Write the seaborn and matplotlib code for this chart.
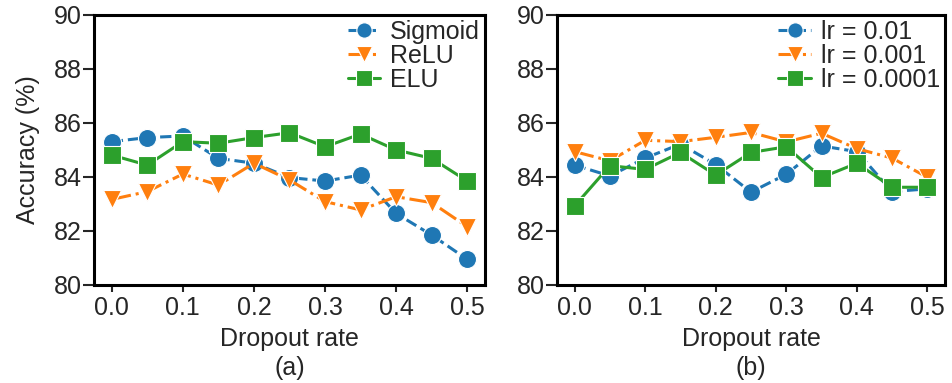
import matplotlib
matplotlib.use("Agg")
import matplotlib.pyplot as plt
import seaborn as sns
import numpy as np

dropout = [0.0, 0.05, 0.1, 0.15, 0.2, 0.25, 0.3, 0.35, 0.4, 0.45, 0.5]

# Panel (a): activation functions
sigmoid = [85.31, 85.46, 85.52, 84.69, 84.51, 83.98, 83.85, 84.07, 82.65, 81.85, 80.95]
relu    = [83.17, 83.46, 84.11, 83.70, 84.51, 83.89, 83.09, 82.78, 83.27, 83.05, 82.16]
elu     = [84.81, 84.44, 85.31, 85.25, 85.46, 85.64, 85.12, 85.59, 85.00, 84.69, 83.85]

# Panel (b): learning rates
lr_001   = [84.44, 84.04, 84.70, 85.22, 84.46, 83.44, 84.10, 85.15, 84.94, 83.46, 83.56]
lr_0001  = [84.94, 84.60, 85.36, 85.31, 85.47, 85.65, 85.30, 85.62, 85.05, 84.70, 83.99]
lr_00001 = [82.93, 84.42, 84.28, 84.91, 84.07, 84.91, 85.12, 83.98, 84.51, 83.62, 83.62]

labels_a = ["Sigmoid", "ReLU", "ELU"]
labels_b = ["lr = 0.01", "lr = 0.001", "lr = 0.0001"]
yticks = [80, 82, 84, 86, 88, 90]
xticks = [0.0, 0.1, 0.2, 0.3, 0.4, 0.5]

sns.set_theme(style="white")
plt.rcParams['font.family'] = ['Liberation Sans', 'DejaVu Sans']

colors = ["#1f77b4", "#ff7f0e", "#2ca02c"]
markers = ["o", "v", "s"]
styles = ["--", "-.", "-"]

fig = plt.figure(figsize=(9.52, 3.83), dpi=100)
W, H = 952, 383
ax1 = fig.add_axes([94 / W, (H - 285) / H, (485 - 94) / W, 270 / H])
ax2 = fig.add_axes([557 / W, (H - 285) / H, (945 - 557) / W, 270 / H])

FS = 18

def draw(ax, series, labels, sub):
    for ys, lab, c, m, ls in zip(series, labels, colors, markers, styles):
        sns.lineplot(x=dropout, y=ys, ax=ax, color=c, marker=m, linestyle=ls,
                     linewidth=2.2, markersize=13, markeredgecolor="white",
                     markeredgewidth=0.8, label=lab)
    ax.set_xlim(-0.025, 0.525)
    ax.set_ylim(80, 90)
    ax.set_yticks(yticks)
    ax.set_xticks(xticks)
    ax.set_xticklabels([f"{v:.1f}" for v in xticks])
    ax.tick_params(axis="y", length=8, width=1.5, pad=1, labelsize=FS, left=True)
    ax.tick_params(axis="x", length=5, width=1.5, pad=3, labelsize=FS, bottom=True)
    for s in ax.spines.values():
        s.set_linewidth(2.2)
        s.set_color("black")
    ax.set_xlabel("Dropout rate\n(a)" if sub == "a" else "Dropout rate\n(b)",
                  fontsize=FS, linespacing=1.25, labelpad=5)
    ax.legend(loc="upper right", frameon=False, fontsize=FS,
              handlelength=1.3, handletextpad=0.4, labelspacing=0.0,
              borderaxespad=0.1, borderpad=0.1, numpoints=1, markerscale=0.85)

draw(ax1, [sigmoid, relu, elu], labels_a, "a")
draw(ax2, [lr_001, lr_0001, lr_00001], labels_b, "b")
ax1.set_ylabel("Accuracy (%)", fontsize=FS, labelpad=10)
ax2.set_ylabel("")

fig.savefig("out.png", dpi=100)
